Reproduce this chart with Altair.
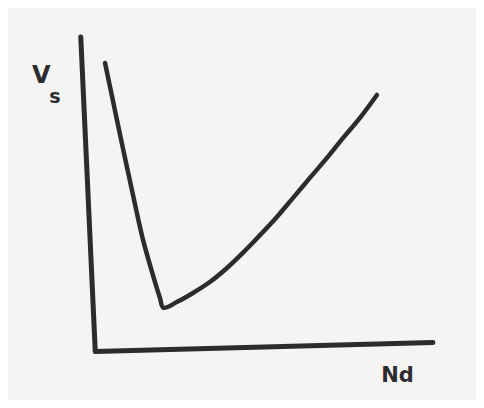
import altair as alt
import pandas as pd

# Curve (Nd vs Vs), arbitrary units
nd = [0.27, 0.50, 0.80, 1.10, 1.39, 1.69, 1.90, 2.00, 2.40, 2.88, 3.38, 3.89, 4.36, 4.87,
      5.37, 5.85, 6.35, 6.85, 7.33, 7.83, 8.34]
vs = [9.17, 7.99, 6.45, 4.95, 3.55, 2.40, 1.66, 1.35, 1.53, 1.82, 2.17, 2.62, 3.10, 3.67,
      4.25, 4.86, 5.50, 6.13, 6.77, 7.41, 8.15]

# Hand-drawn axes
yaxis_x = [-0.45, -0.02]
yaxis_y = [10.0, -0.05]
xaxis_x = [-0.02, 10.0]
xaxis_y = [-0.05, 0.24]

# Labels
label_text = ["V", "s", "Nd"]
label_x = [-1.62, -1.22, 8.95]
label_y = [8.75, 8.1, -0.82]
label_size = [24, 19, 21]

curve = pd.DataFrame({"Nd": nd, "Vs": vs, "o": range(len(nd))})
yax = pd.DataFrame({"Nd": yaxis_x, "Vs": yaxis_y, "o": [0, 1]})
xax = pd.DataFrame({"Nd": xaxis_x, "Vs": xaxis_y, "o": [0, 1]})
labels = pd.DataFrame({"t": label_text, "Nd": label_x, "Vs": label_y, "s": label_size})

xs = alt.Scale(domain=[-2.61, 11.28], nice=False, zero=False)
ys = alt.Scale(domain=[-1.6, 10.93], nice=False, zero=False)
ink = "#2b2b30"

def enc(c):
    return c.encode(
        x=alt.X("Nd:Q", scale=xs, axis=None),
        y=alt.Y("Vs:Q", scale=ys, axis=None),
        order="o:Q",
    )

curve_l = enc(alt.Chart(curve).mark_line(color=ink, strokeWidth=4.5, strokeCap="round", strokeJoin="round", interpolate="catmull-rom"))
yax_l = enc(alt.Chart(yax).mark_line(color=ink, strokeWidth=5, strokeCap="round"))
xax_l = enc(alt.Chart(xax).mark_line(color=ink, strokeWidth=5, strokeCap="round"))

text = alt.Chart(labels).mark_text(
    color=ink, font="DejaVu Sans", fontWeight="bold", align="center", baseline="middle"
).encode(
    x=alt.X("Nd:Q", scale=xs, axis=None),
    y=alt.Y("Vs:Q", scale=ys, axis=None),
    text="t:N",
    size=alt.Size("s:Q", scale=None, legend=None),
)

chart = alt.layer(yax_l, xax_l, curve_l, text).properties(
    width=468, height=392, padding=0, background="#f4f4f3",
    autosize=alt.AutoSizeParams(type="none"),
).configure_view(stroke=None)

chart.save("out.html", embed_options={"renderer": "svg", "actions": False})
